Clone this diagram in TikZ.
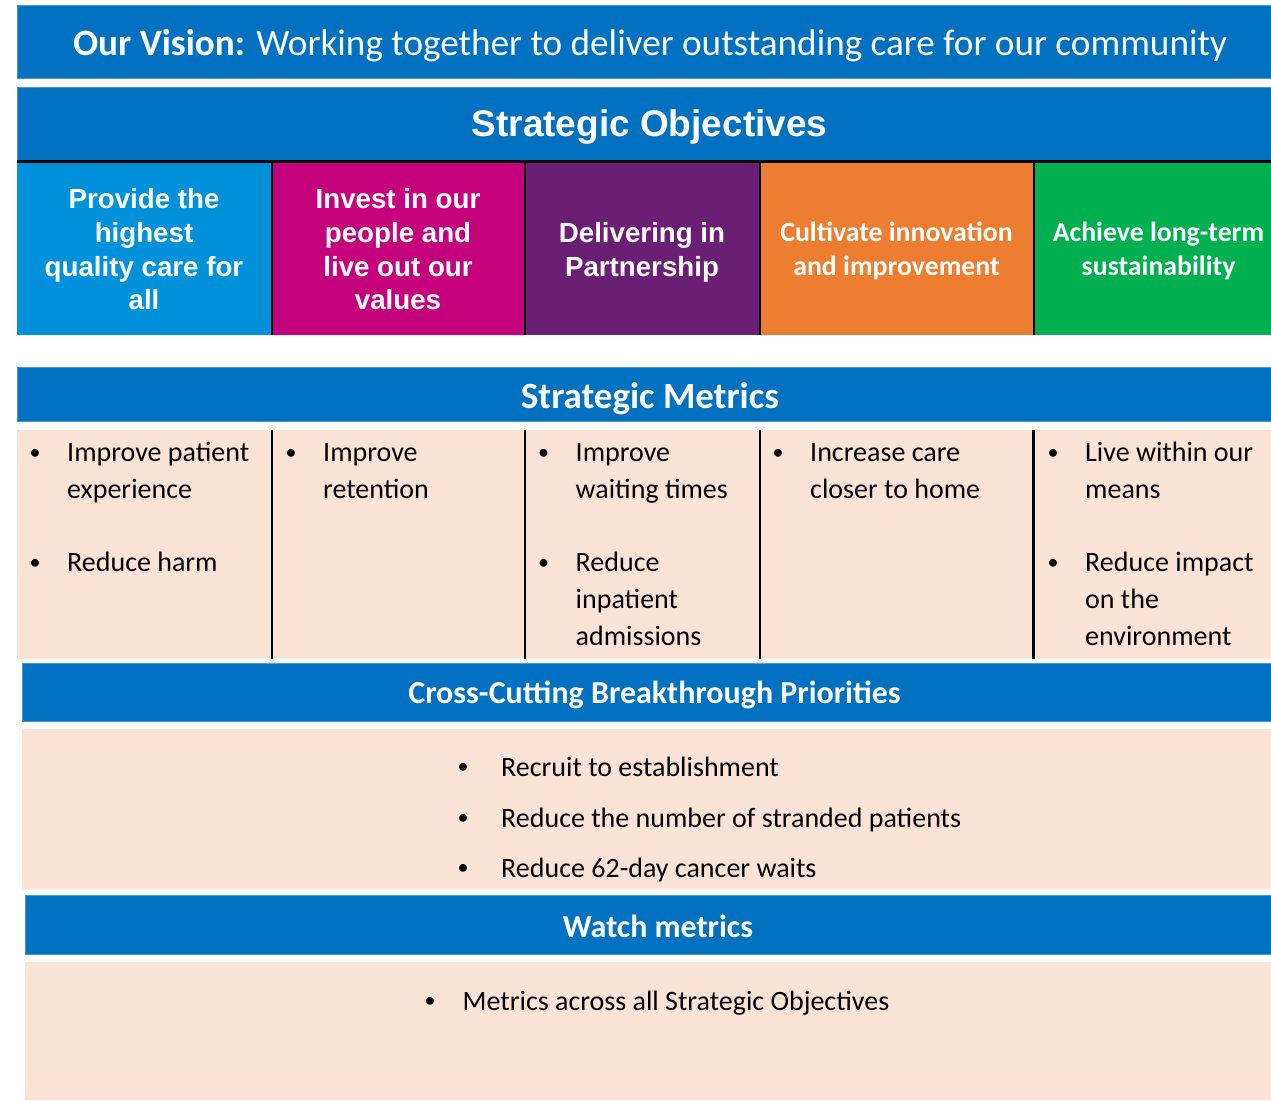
\documentclass[tikz,border=0pt]{standalone}
\usepackage{fontspec}
\setmainfont{Carlito}
\newfontfamily\arialfont{Liberation Sans}
\definecolor{barblue}{HTML}{0070C0}
\definecolor{baredge}{HTML}{4A94D8}
\definecolor{quality}{HTML}{0091DA}
\definecolor{people}{HTML}{C5007C}
\definecolor{partner}{HTML}{6A1F74}
\definecolor{innov}{HTML}{ED7D31}
\definecolor{sustain}{HTML}{00B050}
\definecolor{peach}{HTML}{FBE4D5}
\tikzset{
  bar/.style={fill=barblue, draw=baredge, line width=1pt},
  panel/.style={fill=peach},
  divider/.style={line width=2.6pt, black},
  bartitle/.style={text=white, inner sep=0pt, anchor=base},
  objtext/.style={text=white, align=center, inner sep=0pt,
    font=\arialfont\bfseries\fontsize{27.7}{33.7}\selectfont},
  objtextc/.style={text=white, align=center, inner sep=0pt,
    font=\bfseries\fontsize{27.8}{33.2}\selectfont},
  bodytxt/.style={inner sep=0pt, anchor=base west, font=\fontsize{28}{33}\selectfont},
  dot/.style={inner sep=0pt, anchor=center, yshift=-3pt, font=\fontsize{22}{25}\selectfont},
}
\begin{document}
\begin{tikzpicture}[x=1pt,y=-1pt]
\useasboundingbox (0,0) rectangle (1271,1100);

% vision banner
\draw[bar] (17,5) rectangle (1271,78);
\node[bartitle, font=\fontsize{37.2}{44}\selectfont] (vision) at (650,55)
  {\textbf{Our Vision:} Working together to deliver outstanding care for our community};

% strategic objectives
\draw[bar] (17,87) rectangle (1271,160);
\node[bartitle, font=\arialfont\bfseries\fontsize{37}{44}\selectfont] (objhead) at (649.5,136)
  {Strategic Objectives};

\fill[quality] (17,162) rectangle (272,335);
\fill[people]  (272,162) rectangle (525,335);
\fill[partner] (525,162) rectangle (760,335);
\fill[innov]   (760,162) rectangle (1034,335);
\fill[sustain] (1034,162) rectangle (1271,335);
\draw[divider] (17,161.5) -- (1271,161.5);
\foreach \sx in {272,525,760,1034} \draw[divider] (\sx,161.5) -- (\sx,335);

\node[objtext] (obj1) at (144,249.5) {Provide the\\highest\\quality care for\\all};
\node[objtext] (obj2) at (398,249.5) {Invest in our\\people and\\live out our\\values};
\node[objtext] (obj3) at (642,252) {Delivering in\\Partnership};
\node[objtextc] (obj4) at (896.5,251) {Cultivate innovation\\and improvement};
\node[objtextc] (obj5) at (1158.5,251) {Achieve long-term\\sustainability};

% strategic metrics
\draw[bar] (17,367) rectangle (1271,421);
\node[bartitle, font=\bfseries\fontsize{37}{44}\selectfont] (methead) at (650,408) {Strategic Metrics};
\fill[panel] (17,430) rectangle (1271,659);
\foreach \sx in {272,525,760,1033.5} \draw[divider] (\sx,430) -- (\sx,659);

% column 1
\node[dot] (m1d1) at (35,451) {•};
\node[bodytxt] (m1a) at (67,461.5) {Improve patient};
\node[bodytxt] (m1b) at (67,498) {experience};
\node[dot] (m1d2) at (35,561) {•};
\node[bodytxt] (m1c) at (67,571.5) {Reduce harm};
% column 2
\node[dot] (m2d1) at (291,451) {•};
\node[bodytxt] (m2a) at (323,461.5) {Improve};
\node[bodytxt] (m2b) at (323,498) {retention};
% column 3
\node[dot] (m3d1) at (543.5,451) {•};
\node[bodytxt] (m3a) at (575.5,461.5) {Improve};
\node[bodytxt] (m3b) at (575.5,498) {waiting times};
\node[dot] (m3d2) at (543.5,561) {•};
\node[bodytxt] (m3c) at (575.5,571.5) {Reduce};
\node[bodytxt] (m3d) at (575.5,608.5) {inpatient};
\node[bodytxt] (m3e) at (575.5,645) {admissions};
% column 4
\node[dot] (m4d1) at (778,451) {•};
\node[bodytxt] (m4a) at (810,461.5) {Increase care};
\node[bodytxt] (m4b) at (810,498) {closer to home};
% column 5
\node[dot] (m5d1) at (1053,451) {•};
\node[bodytxt] (m5a) at (1085,461.5) {Live within our};
\node[bodytxt] (m5b) at (1085,498) {means};
\node[dot] (m5d2) at (1053,561) {•};
\node[bodytxt] (m5c) at (1085,571.5) {Reduce impact};
\node[bodytxt] (m5d) at (1085,608.5) {on the};
\node[bodytxt] (m5e) at (1085,645) {environment};

% cross-cutting priorities
\draw[bar] (22,663) rectangle (1271,721);
\node[bartitle, font=\bfseries\fontsize{32}{38}\selectfont] (crosshead) at (654.5,703.5)
  {Cross-Cutting Breakthrough Priorities};
\fill[panel] (22,729) rectangle (1271,889);
\node[dot] (c1d) at (463,765) {•};
\node[bodytxt] (c1) at (501,776) {Recruit to establishment};
\node[dot] (c2d) at (463,816) {•};
\node[bodytxt] (c2) at (501,827) {Reduce the number of stranded patients};
\node[dot] (c3d) at (463,866) {•};
\node[bodytxt] (c3) at (501,877) {Reduce 62-day cancer waits};

% watch metrics
\draw[bar] (25,895) rectangle (1271,954);
\node[bartitle, font=\bfseries\fontsize{32}{38}\selectfont] (watchhead) at (658,937.5) {Watch metrics};
\fill[panel] (25,962) rectangle (1271,1100);
\node[dot] (w1d) at (430,999) {•};
\node[bodytxt] (w1) at (462.5,1010) {Metrics across all Strategic Objectives};
\end{tikzpicture}
\end{document}
